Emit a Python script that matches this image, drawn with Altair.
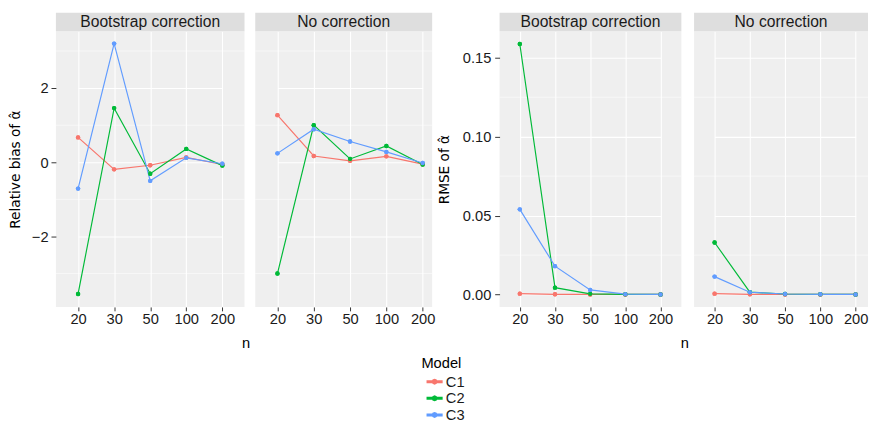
import altair as alt
import pandas as pd

# ---------------- data ----------------
n_levels = ["20", "30", "50", "100", "200"]
models = ["C1", "C2", "C3"]
model_colors = ["#F8766D", "#00BA38", "#619CFF"]
strip_labels = ["Bootstrap correction", "No correction"]

bias_boot_C1 = [0.67, -0.19, -0.08, 0.13, -0.06]
bias_boot_C2 = [-3.55, 1.46, -0.31, 0.36, -0.09]
bias_boot_C3 = [-0.71, 3.20, -0.50, 0.12, -0.04]
bias_none_C1 = [1.27, 0.17, 0.04, 0.16, -0.05]
bias_none_C2 = [-3.00, 1.00, 0.09, 0.44, -0.06]
bias_none_C3 = [0.24, 0.89, 0.56, 0.28, -0.02]

rmse_boot_C1 = [0.0006, 0.0002, 0.0001, 0.0001, 0.0001]
rmse_boot_C2 = [0.1587, 0.0044, 0.0005, 0.0002, 0.0001]
rmse_boot_C3 = [0.0540, 0.0180, 0.0030, 0.0003, 0.0001]
rmse_none_C1 = [0.0006, 0.0002, 0.0001, 0.0001, 0.0001]
rmse_none_C2 = [0.0330, 0.0016, 0.0004, 0.0002, 0.0001]
rmse_none_C3 = [0.0114, 0.0015, 0.0004, 0.0002, 0.0001]

bias_ticks = [-2, 0, 2]
bias_minor = [-3, -1, 1, 3]
rmse_ticks = [0.0, 0.05, 0.10, 0.15]
rmse_minor = [0.025, 0.075, 0.125]


def frame(c1, c2, c3):
    rows = []
    for m, vals in zip(models, [c1, c2, c3]):
        for n, v in zip(n_levels, vals):
            rows.append({"n": n, "model": m, "value": v})
    return pd.DataFrame(rows)


# ---------------- styling ----------------
FONT = "Liberation Sans"
FS = 15
PANEL_H = 282
STRIP_H = 19
TXT = "#1a1a1a"
LEGEND_PATH = ("M-1,-0.1L1,-0.1L1,0.1L-1,0.1Z"
               "M0.3,0L0.21,0.21L0,0.3L-0.21,0.21L-0.3,0L-0.21,-0.21L0,-0.3L0.21,-0.21Z")

LEGEND = alt.Legend(title="Model", orient="none", legendX=374, legendY=332,
                    direction="vertical", titleFontSize=FS,
                    titleFontWeight="normal", titleColor="black",
                    titlePadding=3, labelFontSize=FS, labelColor=TXT,
                    labelOffset=3, symbolType=LEGEND_PATH, symbolSize=225,
                    symbolOffset=5, rowPadding=0)


def panel(df, label, width, xrange, ydomain, yticks, yminor, yfmt,
          ytitle=None, ytitle_pad=5, ylabel_pad=3, xtitle=None, xtitle_x=0):
    yscale = alt.Scale(domain=ydomain, nice=False, zero=False)
    xscale = alt.Scale(domain=n_levels, range=xrange, padding=0)
    if ytitle is not None:
        yaxis = alt.Axis(values=yticks, format=yfmt, title=ytitle,
                         titleFont="DejaVu Sans", titleFontSize=14,
                         titleFontWeight="normal",
                         titleColor="black", titlePadding=ytitle_pad,
                         labelFontSize=FS, labelColor=TXT,
                         labelPadding=ylabel_pad,
                         tickSize=5, tickColor="#333333", tickWidth=1,
                         domain=False, grid=True, gridColor="white",
                         gridWidth=1.1)
    else:
        yaxis = alt.Axis(values=yticks, title=None, labels=False,
                         ticks=False, domain=False, grid=True,
                         gridColor="white", gridWidth=1.1)
    xkw = dict(labelFontSize=FS, labelColor=TXT, labelPadding=1,
               labelAngle=0, tickSize=4, tickColor="#333333", tickWidth=1,
               domain=False, grid=True, gridColor="white", gridWidth=1.1)
    if xtitle is not None:
        xaxis = alt.Axis(title=xtitle, titleFontSize=FS,
                         titleFontWeight="normal", titleColor="black",
                         titleX=xtitle_x, titleAlign="center",
                         titlePadding=10, **xkw)
    else:
        xaxis = alt.Axis(title=None, **xkw)

    cscale = alt.Scale(domain=models, range=model_colors)
    stroke_line = alt.Stroke("model:N", scale=cscale, legend=None)
    color_pt = alt.Color("model:N", scale=cscale, legend=LEGEND)

    minor_df = pd.DataFrame({"value": yminor})
    minor = alt.Chart(minor_df).mark_rule(color="white", strokeWidth=0.55).encode(
        y=alt.Y("value:Q", scale=yscale, axis=yaxis))
    base = alt.Chart(df).encode(
        x=alt.X("n:N", sort=n_levels, scale=xscale, axis=xaxis),
        y=alt.Y("value:Q", scale=yscale, axis=yaxis),
    )
    pts_under = base.mark_point(filled=True, size=20, opacity=1).encode(
        color=color_pt)
    lines = base.mark_line(strokeWidth=1.2).encode(stroke=stroke_line,
                                                   detail="model:N")
    pts = base.mark_point(filled=True, size=20, opacity=1).encode(color=color_pt)

    strip_df = pd.DataFrame({"label": [label]})
    strip = alt.Chart(strip_df).mark_rect(color="#dedede").encode(
        x=alt.value(0), x2=alt.value(width),
        y=alt.value(-STRIP_H), y2=alt.value(0))
    strip_txt = alt.Chart(strip_df).mark_text(
        fontSize=16, color=TXT, align="center", baseline="middle", font=FONT
    ).encode(x=alt.value(width / 2), y=alt.value(-STRIP_H / 2 + 0.5),
             text="label:N")

    return alt.layer(minor, pts_under, lines, pts, strip, strip_txt).properties(
        width=width, height=PANEL_H)


alpha_hat = "\u03b1\u0302"

L1 = panel(frame(bias_boot_C1, bias_boot_C2, bias_boot_C3), strip_labels[0],
           193, [22.7, 170.3], [-3.9, 3.53], bias_ticks, bias_minor, "d",
           ytitle="Relative bias of " + alpha_hat, ytitle_pad=9,
           xtitle="n", xtitle_x=194)
L2 = panel(frame(bias_none_C1, bias_none_C2, bias_none_C3), strip_labels[1],
           181, [22.7, 171.3], [-3.9, 3.53], bias_ticks, bias_minor, "d")
R1 = panel(frame(rmse_boot_C1, rmse_boot_C2, rmse_boot_C3), strip_labels[0],
           186, [20.7, 164.7], [-0.0078, 0.1667], rmse_ticks, rmse_minor,
           ".2f", ytitle="RMSE of " + alpha_hat, ytitle_pad=11, ylabel_pad=4,
           xtitle="n", xtitle_x=189)
R2 = panel(frame(rmse_none_C1, rmse_none_C2, rmse_none_C3), strip_labels[1],
           178, [21, 165.3], [-0.0078, 0.1667], rmse_ticks, rmse_minor, ".2f")

left = alt.hconcat(L1, L2, spacing=4)
right = alt.hconcat(R1, R2, spacing=4)

chart = alt.hconcat(left, right, spacing=2).properties(padding=0).configure(
    font=FONT
).configure_view(fill="#efefef", strokeWidth=0)

chart.save("out.html", embed_options={"renderer": "svg", "actions": False})
